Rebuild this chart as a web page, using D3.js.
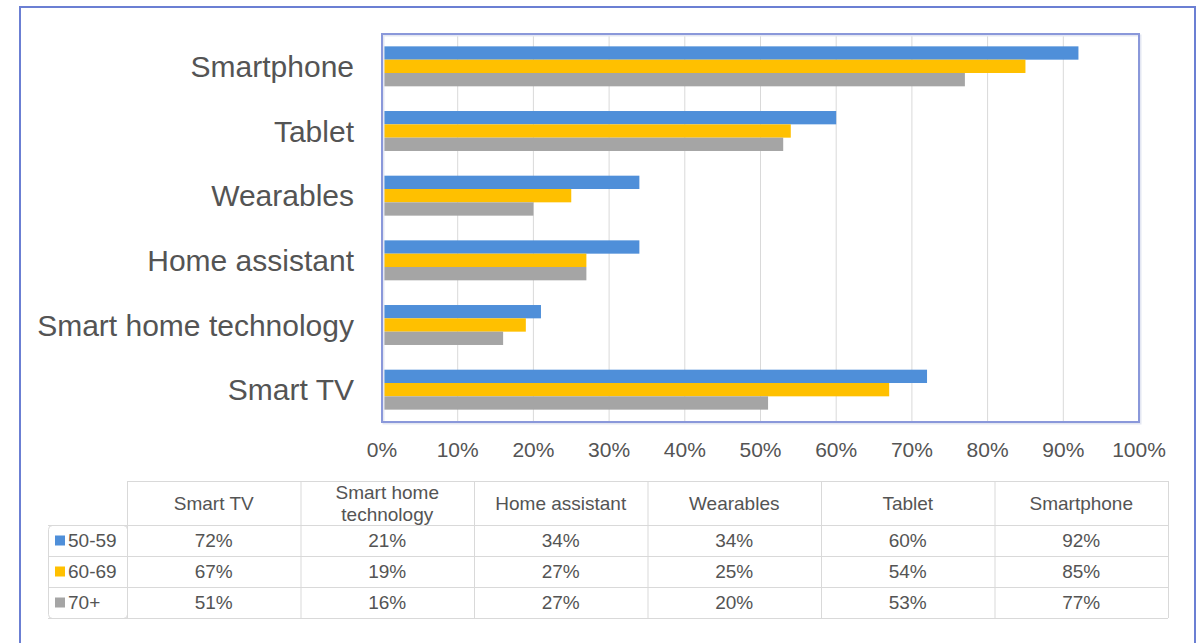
<!DOCTYPE html>
<html>
<head>
<meta charset="utf-8">
<script src="https://cdn.jsdelivr.net/npm/d3@7"></script>
<style>
  body { margin: 0; background: #fff; }
  svg { display: block; font-family: "Liberation Sans", Arial, sans-serif; }
</style>
</head>
<body>
<svg width="1203" height="643"></svg>
<script>
// data, in the order of the table under the chart
const categories = ["Smart TV", "Smart home technology", "Home assistant", "Wearables", "Tablet", "Smartphone"];
const series = ["50-59", "60-69", "70+"];
const values5059 = [72, 21, 34, 34, 60, 92];
const values6069 = [67, 19, 27, 25, 54, 85];
const values70 = [51, 16, 27, 20, 53, 77];
const ticks = [0, 10, 20, 30, 40, 50, 60, 70, 80, 90, 100];

const seriesValues = [values5059, values6069, values70];
const colors = ["#4f8fd9", "#ffc000", "#a5a5a5"];
const textColor = "#545454";
const gridColor = "#d9d9d9";

const svg = d3.select("svg");

// outer frame
svg.append("rect")
  .attr("x", 20).attr("y", 7)
  .attr("width", 1175).attr("height", 650)
  .attr("fill", "none")
  .attr("stroke", "#6b7fd3")
  .attr("stroke-width", 2);

const plot = {left: 382, top: 34, right: 1139, bottom: 422};

const x = d3.scaleLinear().domain([0, 100]).range([plot.left, plot.right]);

// excel draws the first category at the bottom
const y = d3.scaleBand()
  .domain(categories.slice().reverse())
  .range([plot.top, plot.bottom])
  .paddingInner(0.382)
  .paddingOuter(0.191);

const ySub = d3.scaleBand().domain(series).range([0, y.bandwidth()]);

// gridlines
svg.append("g")
  .selectAll("line")
  .data(ticks.slice(1, -1))
  .join("line")
  .attr("x1", d => x(d)).attr("x2", d => x(d))
  .attr("y1", plot.top).attr("y2", plot.bottom)
  .attr("stroke", gridColor)
  .attr("stroke-width", 1);

// bars
const groups = svg.append("g")
  .selectAll("g")
  .data(categories)
  .join("g")
  .attr("transform", d => `translate(0,${y(d)})`);

groups.selectAll("rect")
  .data((d, i) => series.map((s, j) => ({s, v: seriesValues[j][i], j})))
  .join("rect")
  .attr("x", x(0))
  .attr("y", d => ySub(d.s))
  .attr("width", d => x(d.v) - x(0))
  .attr("height", ySub.bandwidth())
  .attr("fill", d => colors[d.j]);

// plot border with a soft shadow
svg.append("rect")
  .attr("x", plot.left + 1.5).attr("y", plot.top + 1.5)
  .attr("width", plot.right - plot.left).attr("height", plot.bottom - plot.top)
  .attr("fill", "none")
  .attr("stroke", "#e4e7f2")
  .attr("stroke-width", 2);
svg.append("rect")
  .attr("x", plot.left).attr("y", plot.top)
  .attr("width", plot.right - plot.left).attr("height", plot.bottom - plot.top)
  .attr("fill", "none")
  .attr("stroke", "#8a98da")
  .attr("stroke-width", 2);

// category labels
svg.append("g")
  .selectAll("text")
  .data(categories)
  .join("text")
  .attr("x", plot.left - 28)
  .attr("y", d => y(d) + y.bandwidth() / 2)
  .attr("dy", "0.35em")
  .attr("text-anchor", "end")
  .attr("font-size", 30)
  .attr("fill", textColor)
  .text(d => d);

// x tick labels
svg.append("g")
  .selectAll("text")
  .data(ticks)
  .join("text")
  .attr("x", d => x(d))
  .attr("y", 450)
  .attr("dy", "0.35em")
  .attr("text-anchor", "middle")
  .attr("font-size", 21)
  .attr("fill", textColor)
  .text(d => d + "%");

// data table
const col = d3.scaleBand().domain(categories).range([127, 1168]);
const headTop = 481, headBottom = 525;
const row = d3.scaleBand().domain(series).range([headBottom, 618]);
const legendLeft = 48;

const table = svg.append("g").attr("stroke", gridColor).attr("stroke-width", 1).attr("fill", "none");

// legend cell box
table.append("rect")
  .attr("x", legendLeft + 0.5).attr("y", headBottom + 0.5)
  .attr("width", col.range()[0] - legendLeft).attr("height", row.range()[1] - headBottom)
  .attr("rx", 4);

// header top line
table.append("line")
  .attr("x1", col.range()[0]).attr("x2", col.range()[1])
  .attr("y1", headTop + 0.5).attr("y2", headTop + 0.5);

// horizontal lines
table.selectAll("line.h")
  .data(series.map(s => row(s)).concat([row.range()[1]]))
  .join("line")
  .attr("class", "h")
  .attr("x1", legendLeft).attr("x2", col.range()[1])
  .attr("y1", d => d + 0.5).attr("y2", d => d + 0.5);

// vertical lines
table.selectAll("line.v")
  .data(categories.map(c => col(c)).concat([col.range()[1]]))
  .join("line")
  .attr("class", "v")
  .attr("x1", d => d + 0.5).attr("x2", d => d + 0.5)
  .attr("y1", headTop).attr("y2", row.range()[1]);

// header labels, wrapped to the column width
const head = svg.append("g")
  .selectAll("text")
  .data(categories)
  .join("text")
  .attr("text-anchor", "middle")
  .attr("font-size", 19)
  .attr("fill", textColor);

head.each(function(d) {
  const t = d3.select(this);
  const words = d.split(" ");
  const lines = [];
  let line = [];
  words.forEach(w => {
    line.push(w);
    t.text(line.join(" "));
    if (this.getComputedTextLength() > col.bandwidth() - 24 && line.length > 1) {
      line.pop();
      lines.push(line.join(" "));
      line = [w];
    }
  });
  lines.push(line.join(" "));
  t.text(null);
  const cx = col(d) + col.bandwidth() / 2;
  const cy = (headTop + headBottom) / 2;
  lines.forEach((l, i) => {
    t.append("tspan")
      .attr("x", cx)
      .attr("y", cy + (i - (lines.length - 1) / 2) * 22)
      .attr("dy", "0.35em")
      .text(l);
  });
});

// values
const cells = svg.append("g")
  .selectAll("g")
  .data(series)
  .join("g");

cells.selectAll("text")
  .data((s, j) => categories.map((c, i) => ({s, c, v: seriesValues[j][i]})))
  .join("text")
  .attr("x", d => col(d.c) + col.bandwidth() / 2)
  .attr("y", d => row(d.s) + row.bandwidth() / 2)
  .attr("dy", "0.35em")
  .attr("text-anchor", "middle")
  .attr("font-size", 19)
  .attr("fill", textColor)
  .text(d => d.v + "%");

// legend keys
const legend = svg.append("g")
  .selectAll("g")
  .data(series)
  .join("g")
  .attr("transform", d => `translate(0,${row(d) + row.bandwidth() / 2})`);

legend.append("rect")
  .attr("x", 55).attr("y", -5)
  .attr("width", 10).attr("height", 10)
  .attr("fill", (d, i) => colors[i]);

legend.append("text")
  .attr("x", 68)
  .attr("dy", "0.35em")
  .attr("font-size", 19)
  .attr("fill", textColor)
  .text(d => d);
</script>
</body>
</html>
